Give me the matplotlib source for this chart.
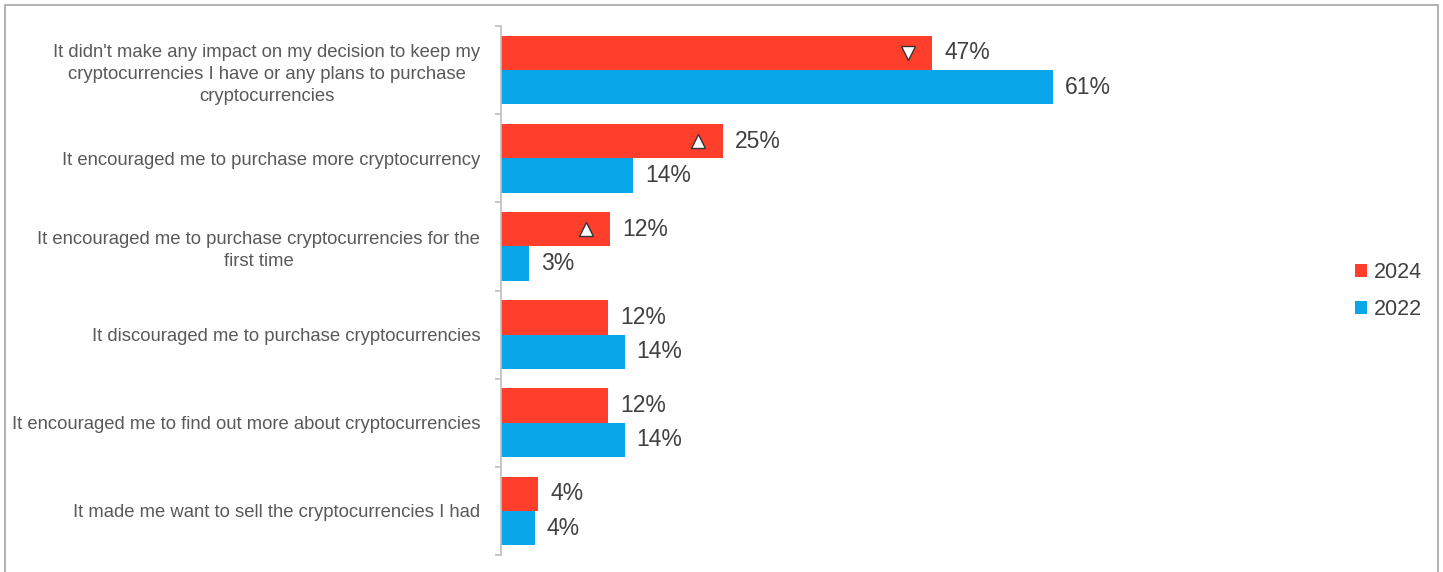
import matplotlib.pyplot as plt
from matplotlib.patches import Rectangle
import numpy as np

plt.rcParams['font.family'] = ['Liberation Sans', 'DejaVu Sans']

# --- data ---
categories = [
    "It didn't make any impact on my decision to keep my\ncryptocurrencies I have or any plans to purchase\ncryptocurrencies",
    "It encouraged me to purchase more cryptocurrency",
    "It encouraged me to purchase cryptocurrencies for the\nfirst time",
    "It discouraged me to purchase cryptocurrencies",
    "It encouraged me to find out more about cryptocurrencies",
    "It made me want to sell the cryptocurrencies I had",
]
vals_2024 = [47.4, 24.4, 12.0, 11.8, 11.8, 4.1]
vals_2022 = [60.7, 14.5, 3.1, 13.6, 13.6, 3.7]
labels_2024 = ["47%", "25%", "12%", "12%", "12%", "4%"]
labels_2022 = ["61%", "14%", "3%", "14%", "14%", "4%"]
# significance markers on 2024 bars: 'v' down, '^' up, None
sig_2024 = ["v", "^", "^", None, None, None]

RED = "#FF3F2C"
BLUE = "#09A6E9"
GRAY = "#595959"

W, H = 1443, 572
fig = plt.figure(figsize=(W / 100, H / 100), dpi=100)

# outer border
fig.patches.append(Rectangle((5 / W, -0.1), 1433 / W, 1.1 - 5 / H, transform=fig.transFigure,
                             fill=False, edgecolor="#A6A6A6", lw=1.2))

ax = fig.add_axes([501 / W, 17 / H, 829 / W, 529 / H])
n = len(categories)
y = np.arange(n)
bh = 0.39
ax.barh(y - bh / 2, vals_2024, height=bh, color=RED, label="2024")
ax.barh(y + bh / 2, vals_2022, height=bh, color=BLUE, label="2022")
ax.set_ylim(n - 0.5, -0.5)
ax.set_xlim(0, 91.1)

for i in range(n):
    ax.text(vals_2024[i] + 1.3, y[i] - bh / 2, labels_2024[i], va="center", ha="left",
            fontsize=16.5, color="#404040")
    ax.text(vals_2022[i] + 1.3, y[i] + bh / 2, labels_2022[i], va="center", ha="left",
            fontsize=16.5, color="#404040")
    if sig_2024[i]:
        ax.plot(vals_2024[i] - 2.7, y[i] - bh / 2, marker=sig_2024[i], ms=10.5,
                mfc="white", mec="#333333", mew=1.0, ls="none")

for s in ["top", "right", "bottom"]:
    ax.spines[s].set_visible(False)
ax.spines["left"].set_color("#BFBFBF")
ax.spines["left"].set_linewidth(1.2)
ax.set_xticks([])
ax.set_yticks(np.arange(-0.5, n, 1.0))
ax.set_yticklabels([])
ax.tick_params(axis="y", length=4, color="#BFBFBF", width=1.2)
ax.set_yticks(y, minor=True)
ax.set_yticklabels(categories, minor=True, fontsize=13.3, color=GRAY, ha="right",
                   linespacing=1.38)
ax.tick_params(axis="y", which="minor", length=0, pad=15)
for k, lbl in enumerate(ax.get_yticklabels(minor=True)):
    lbl.set_multialignment("center" if "\n" in categories[k] else "right")

leg = fig.legend(loc="center left", bbox_to_anchor=(1336 / W, 1 - 291 / H), frameon=False,
                 fontsize=15.5, handlelength=0.55, handleheight=0.55, handletextpad=0.3,
                 labelspacing=0.75, labelcolor="#404040")

fig.savefig("out.png", dpi=100)
